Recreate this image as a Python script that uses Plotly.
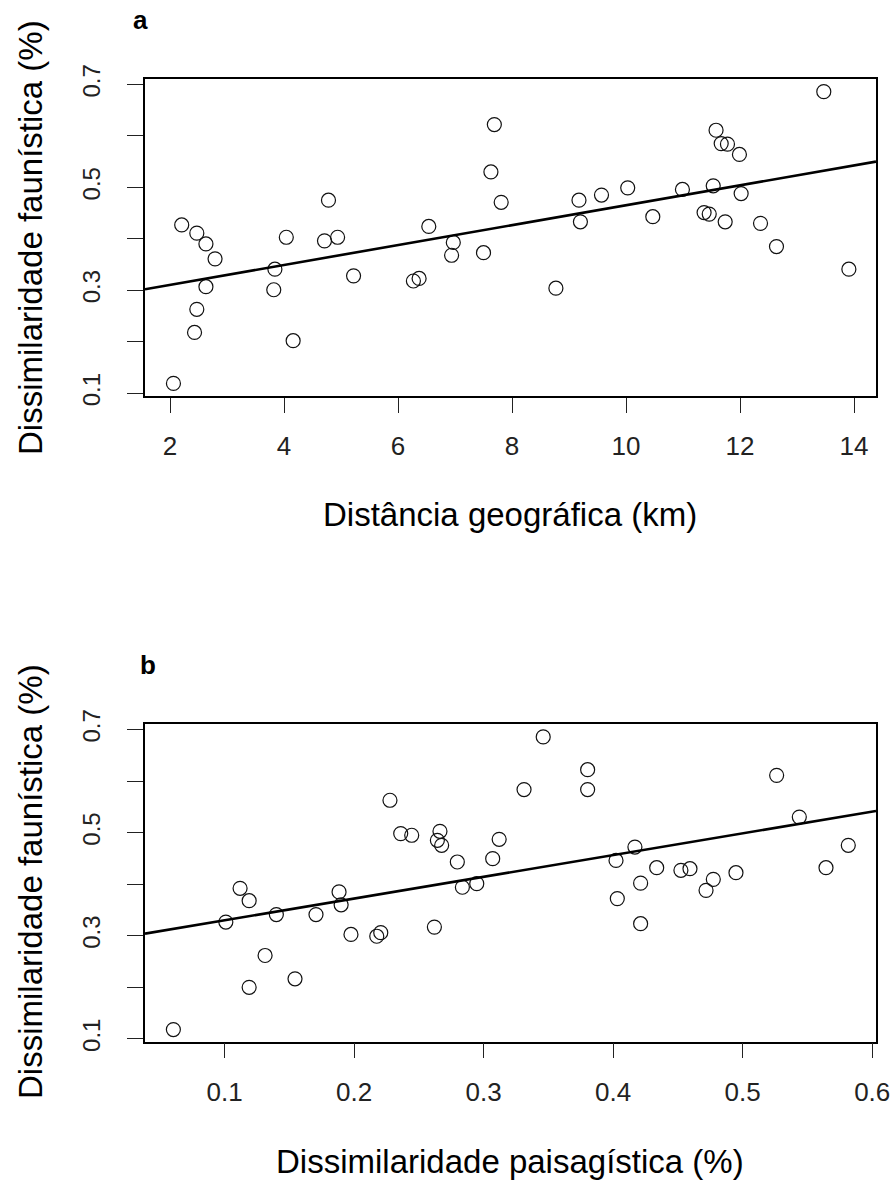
import plotly.graph_objects as go

# ---------------- data ----------------
dist_km = [2.06, 2.205, 2.47, 2.63, 2.79, 2.63, 2.47, 2.43, 4.04, 4.16, 3.84, 3.82,
           4.78, 4.71, 4.94, 5.22, 7.69, 7.63, 7.81, 6.54, 6.97, 6.94, 7.50, 6.27,
           6.37, 8.77, 9.175, 9.20, 9.57, 10.03, 13.47, 11.58, 11.67, 11.78, 11.99,
           10.99, 11.53, 12.02, 10.47, 11.37, 11.46, 11.74, 12.36, 12.64, 13.91]
fauna_a = [0.119, 0.427, 0.411, 0.390, 0.361, 0.307, 0.263, 0.218, 0.403, 0.202,
           0.341, 0.301, 0.475, 0.396, 0.403, 0.328, 0.622, 0.530, 0.471, 0.424,
           0.393, 0.368, 0.373, 0.318, 0.323, 0.304, 0.475, 0.433, 0.485, 0.499,
           0.686, 0.611, 0.585, 0.584, 0.564, 0.496, 0.503, 0.488, 0.443, 0.451,
           0.448, 0.433, 0.430, 0.385, 0.341]

landscape = [0.0605, 0.112, 0.119, 0.101, 0.140, 0.1706, 0.1884, 0.190, 0.1976,
             0.2175, 0.2206, 0.1313, 0.1544, 0.119, 0.2277, 0.346, 0.3803, 0.3803,
             0.3312, 0.236, 0.2445, 0.2663, 0.2643, 0.2676, 0.312, 0.307, 0.2797,
             0.2836, 0.2947, 0.262, 0.4022, 0.4032, 0.5262, 0.5437, 0.5815, 0.5643,
             0.4168, 0.4336, 0.4212, 0.4212, 0.4523, 0.4593, 0.4773, 0.4717, 0.4948]
fauna_b = [0.118, 0.392, 0.368, 0.3265, 0.341, 0.341, 0.385, 0.360, 0.3025,
           0.299, 0.306, 0.2617, 0.2165, 0.200, 0.5627, 0.6856, 0.622, 0.5835,
           0.5835, 0.498, 0.4948, 0.5025, 0.485, 0.4753, 0.487, 0.4495, 0.443,
           0.394, 0.401, 0.3167, 0.446, 0.372, 0.611, 0.530, 0.4753, 0.432,
           0.472, 0.432, 0.402, 0.3233, 0.4268, 0.430, 0.4093, 0.388, 0.4223]

fit_a = (0.2718, 0.01934)   # intercept, slope
fit_b = (0.2877, 0.4218)

x_ticks_a = [2, 4, 6, 8, 10, 12, 14]
x_ticks_b = [0.1, 0.2, 0.3, 0.4, 0.5, 0.6]
y_ticks = [0.1, 0.2, 0.3, 0.4, 0.5, 0.6, 0.7]
y_tick_text = ["0.1", "", "0.3", "", "0.5", "", "0.7"]

x_range_a = [1.561, 14.386]
x_range_b = [0.0386, 0.6029]
y_range = [0.0945, 0.7100]

xlabel_a = "Distância geográfica (km)"
xlabel_b = "Dissimilaridade paisagística (%)"
ylabel = "Dissimilaridade faunística (%)"

# ---------------- figure ----------------
W, H = 895, 1180
FONT = "Liberation Sans, Arial, sans-serif"

def px_x(p):
    return p / W

def px_y(p):
    return 1 - p / H

fig = go.Figure()

marker = dict(symbol="circle-open", size=14, color="#111111", line=dict(width=1.2, color="#111111"))

fig.add_trace(go.Scatter(x=dist_km, y=fauna_a, mode="markers", marker=marker,
                         xaxis="x", yaxis="y", showlegend=False, cliponaxis=False))
fig.add_trace(go.Scatter(x=x_range_a, y=[fit_a[0] + fit_a[1] * v for v in x_range_a],
                         mode="lines", line=dict(color="black", width=2.6),
                         xaxis="x", yaxis="y", showlegend=False))

fig.add_trace(go.Scatter(x=landscape, y=fauna_b, mode="markers", marker=marker,
                         xaxis="x2", yaxis="y2", showlegend=False, cliponaxis=False))
fig.add_trace(go.Scatter(x=x_range_b, y=[fit_b[0] + fit_b[1] * v for v in x_range_b],
                         mode="lines", line=dict(color="black", width=2.6),
                         xaxis="x2", yaxis="y2", showlegend=False))

xdom = [px_x(145), px_x(876)]
ydom_a = [px_y(396), px_y(79.3)]
ydom_b = [px_y(1041.7), px_y(724.3)]

common_x = dict(showgrid=False, zeroline=False, showline=True, mirror=True,
                linecolor="black", linewidth=1.5, ticks="outside", ticklen=15,
                tickwidth=1.2, tickcolor="#222", automargin=False,
                tickfont=dict(family=FONT, size=26, color="#222"),
                ticklabelstandoff=11)
common_y = dict(showgrid=False, zeroline=False, showline=True, mirror=True,
                linecolor="black", linewidth=1.5, ticks="outside", ticklen=16,
                tickwidth=1.2, tickcolor="#222", automargin=False,
                tickmode="array", tickvals=y_ticks, ticktext=y_tick_text,
                tickangle=-90, range=y_range,
                tickfont=dict(family=FONT, size=24, color="#222"),
                ticklabelstandoff=18)

fig.update_layout(
    width=W, height=H,
    margin=dict(l=0, r=0, t=0, b=0),
    paper_bgcolor="white", plot_bgcolor="white",
    xaxis=dict(domain=xdom, anchor="y", range=x_range_a, tickmode="array",
               tickvals=x_ticks_a, ticktext=[str(v) for v in x_ticks_a], **common_x),
    yaxis=dict(domain=ydom_a, anchor="x", **common_y),
    xaxis2=dict(domain=xdom, anchor="y2", range=x_range_b, tickmode="array",
                tickvals=x_ticks_b, ticktext=[f"{v:.1f}" for v in x_ticks_b], **common_x),
    yaxis2=dict(domain=ydom_b, anchor="x2", **common_y),
)

ann = []
ann.append(dict(text=ylabel, x=px_x(30), y=px_y(238), xref="paper", yref="paper",
                textangle=-90, showarrow=False, xanchor="center", yanchor="middle",
                font=dict(family=FONT, size=33, color="black")))
ann.append(dict(text=ylabel, x=px_x(30), y=px_y(882), xref="paper", yref="paper",
                textangle=-90, showarrow=False, xanchor="center", yanchor="middle",
                font=dict(family=FONT, size=33, color="black")))
ann.append(dict(text=xlabel_a, x=px_x(510), y=px_y(515), xref="paper", yref="paper",
                showarrow=False, xanchor="center", yanchor="middle",
                font=dict(family=FONT, size=33, color="black")))
ann.append(dict(text=xlabel_b, x=px_x(510), y=px_y(1161), xref="paper", yref="paper",
                showarrow=False, xanchor="center", yanchor="middle",
                font=dict(family=FONT, size=33, color="black")))
ann.append(dict(text="<b>a</b>", x=px_x(140), y=px_y(20), xref="paper", yref="paper",
                showarrow=False, xanchor="center", yanchor="middle",
                font=dict(family=FONT, size=26, color="black")))
ann.append(dict(text="<b>b</b>", x=px_x(148), y=px_y(665), xref="paper", yref="paper",
                showarrow=False, xanchor="center", yanchor="middle",
                font=dict(family=FONT, size=26, color="black")))
fig.update_layout(annotations=ann)

fig.write_html("out.html",
               config={"displayModeBar": False},
               post_script="document.body.style.margin='0';document.body.style.overflow='hidden';")
